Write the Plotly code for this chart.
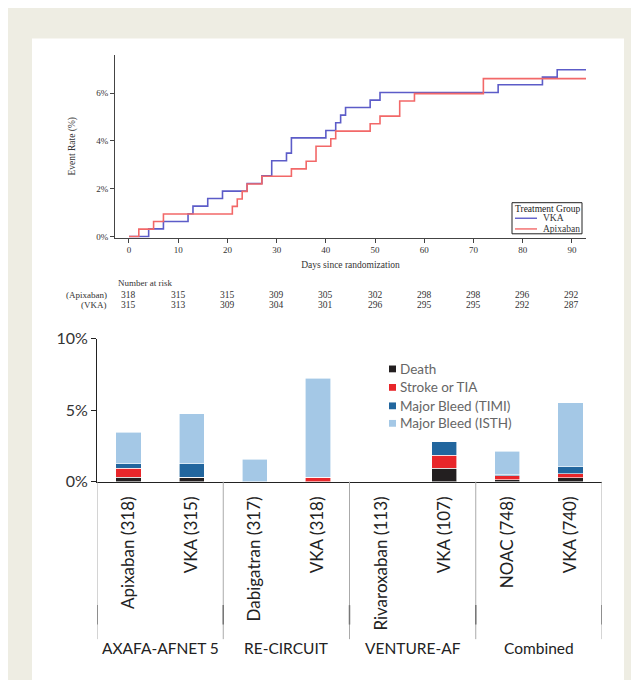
import plotly.graph_objects as go

W, H = 639, 680
OFF = 8  # page offset of the plot div (default body margin)


def px_x(x):
    return (x - OFF) / W


def px_y(y):
    return 1 - (y - OFF) / H


# ---------------- Kaplan-Meier data (event rate, %) ----------------
vka_days = [0, 4, 7, 12, 13, 16, 19, 24, 27, 29, 32, 33, 40, 42, 43, 44, 49, 51, 75, 84, 87, 93]
vka_rate = [0, 0.32, 0.63, 0.95, 1.27, 1.59, 1.90, 2.22, 2.54, 3.17, 3.49, 4.13, 4.44, 4.76,
            5.08, 5.40, 5.71, 6.03, 6.35, 6.67, 6.98, 6.98]
apix_days = [0, 2, 5, 7, 21, 22, 23, 24, 27, 33, 36, 38, 41, 42, 49, 51, 55, 58, 72, 93]
apix_rate = [0, 0.31, 0.63, 0.94, 1.26, 1.57, 1.89, 2.20, 2.52, 2.83, 3.15, 3.78, 4.09, 4.41,
             4.72, 5.04, 5.67, 5.98, 6.61, 6.61]

km_ticks = [0, 2, 4, 6]
km_ticktext = ["0%", "2%", "4%", "6%"]
risk_days = [0, 10, 20, 30, 40, 50, 60, 70, 80, 90]
risk_apix = [318, 315, 315, 309, 305, 302, 298, 298, 296, 292]
risk_vka = [315, 313, 309, 304, 301, 296, 295, 295, 292, 287]

# ---------------- Stacked bar data (%) ----------------
categories = ["Apixaban (318)", "VKA (315)", "Dabigatran (317)", "VKA (318)",
              "Rivaroxaban (113)", "VKA (107)", "NOAC (748)", "VKA (740)"]
groups = ["AXAFA-AFNET 5", "RE-CIRCUIT", "VENTURE-AF", "Combined"]
death = [0.31, 0.32, 0, 0, 0, 0.93, 0.13, 0.27]
stroke = [0.63, 0, 0, 0.31, 0, 0.93, 0.27, 0.27]
bleed_timi = [0.31, 0.95, 0, 0, 0, 0.93, 0.13, 0.50]
bleed_isth = [2.20, 3.49, 1.58, 6.92, 0, 0, 1.60, 4.50]
bar_ticks = [0, 5, 10]
bar_ticktext = ["0%", "5%", "10%"]

SERIF = "Liberation Serif"
SANS = "Lato"
VKA_COL = "#5c5cc8"
APIX_COL = "#f26868"

fig = go.Figure()

fig.add_trace(go.Scatter(x=vka_days, y=vka_rate, mode="lines", line_shape="hv",
                         name="VKA", line=dict(color=VKA_COL, width=1.6),
                         xaxis="x", yaxis="y", showlegend=False))
fig.add_trace(go.Scatter(x=apix_days, y=apix_rate, mode="lines", line_shape="hv",
                         name="Apixaban", line=dict(color=APIX_COL, width=1.6),
                         xaxis="x", yaxis="y", showlegend=False))

xcat = list(range(len(categories)))
bar_series = [("Death", death, "#231f20"),
              ("Stroke or TIA", stroke, "#e8262a"),
              ("Major Bleed (TIMI)", bleed_timi, "#22669e"),
              ("Major Bleed (ISTH)", bleed_isth, "#a4c8e6")]
for name, vals, col in bar_series:
    fig.add_trace(go.Bar(x=xcat, y=vals, name=name, width=0.4,
                         marker=dict(color=col, line=dict(color="white", width=0.6)),
                         xaxis="x2", yaxis="y2", showlegend=False))

shapes = [
    dict(type="rect", xref="paper", yref="paper", x0=px_x(32), x1=px_x(624),
         y0=-0.05, y1=px_y(29), fillcolor="white", line=dict(width=0), layer="below"),
]
# group separators
for xs in [-0.5, 1.5, 3.5, 5.5, 7.5]:
    shapes.append(dict(type="line", xref="x2", yref="paper", x0=xs, x1=xs,
                       y0=px_y(485), y1=px_y(647), line=dict(color="#aaaaaa", width=1)))
    shapes.append(dict(type="line", xref="x2", yref="paper", x0=xs, x1=xs,
                       y0=px_y(612), y1=px_y(632), line=dict(color="#777777", width=1.5)))

annotations = []

# KM legend box (Treatment Group)
shapes.append(dict(type="rect", xref="paper", yref="paper", x0=px_x(512), x1=px_x(582),
                   y0=px_y(230), y1=px_y(198), fillcolor="white",
                   line=dict(color="#222", width=1)))
annotations.append(dict(text="Treatment Group", xref="paper", yref="paper", x=px_x(512.5),
                        y=px_y(204), xanchor="left", yanchor="middle", showarrow=False,
                        font=dict(family=SERIF, size=9.5, color="#222")))
for label, col, ly in [("VKA", VKA_COL, 214), ("Apixaban", APIX_COL, 225)]:
    shapes.append(dict(type="line", xref="paper", yref="paper", x0=px_x(515), x1=px_x(537),
                       y0=px_y(ly), y1=px_y(ly), line=dict(color=col, width=1.4)))
    annotations.append(dict(text=label, xref="paper", yref="paper", x=px_x(541),
                            y=px_y(ly), xanchor="left", yanchor="middle", showarrow=False,
                            font=dict(family=SERIF, size=9.5, color="#333")))

# Bar legend
for (name, vals, col), ly in zip(bar_series, [369, 388, 407, 425]):
    shapes.append(dict(type="rect", xref="paper", yref="paper", x0=px_x(389), x1=px_x(396),
                       y0=px_y(ly + 3.5), y1=px_y(ly - 3.5), fillcolor=col,
                       line=dict(width=0)))
    annotations.append(dict(text=name, xref="paper", yref="paper", x=px_x(398),
                            y=px_y(ly), xanchor="left", yanchor="middle", showarrow=False,
                            font=dict(family=SANS, size=13.5, color="#666")))

# risk table
annotations.append(dict(text="Number at risk", xref="paper", yref="paper", x=px_x(116),
                        y=px_y(281), xanchor="left", yanchor="middle", showarrow=False,
                        font=dict(family=SERIF, size=9, color="#333")))
annotations.append(dict(text="(Apixaban)", xref="paper", yref="paper", x=px_x(109),
                        y=px_y(292.5), xanchor="right", yanchor="middle", showarrow=False,
                        font=dict(family=SERIF, size=9, color="#333")))
annotations.append(dict(text="(VKA)", xref="paper", yref="paper", x=px_x(109),
                        y=px_y(303.5), xanchor="right", yanchor="middle", showarrow=False,
                        font=dict(family=SERIF, size=9, color="#333")))
for d, a, v in zip(risk_days, risk_apix, risk_vka):
    annotations.append(dict(text=str(a), xref="x", yref="paper", x=d, y=px_y(292.5),
                            xanchor="center", yanchor="middle", showarrow=False,
                            font=dict(family=SERIF, size=9.5, color="#333")))
    annotations.append(dict(text=str(v), xref="x", yref="paper", x=d, y=px_y(303.5),
                            xanchor="center", yanchor="middle", showarrow=False,
                            font=dict(family=SERIF, size=9.5, color="#333")))
# group labels
for i, g in enumerate(groups):
    annotations.append(dict(text=g, xref="x2", yref="paper", x=2 * i + 0.5, y=px_y(656),
                            xanchor="center", yanchor="middle", showarrow=False,
                            font=dict(family=SANS, size=15.5, color="#222")))

fig.update_layout(
    width=W, height=H,
    margin=dict(l=0, r=0, t=0, b=0),
    paper_bgcolor="#eeede3",
    plot_bgcolor="rgba(0,0,0,0)",
    barmode="stack",
    showlegend=False,
    shapes=shapes,
    annotations=annotations,
    xaxis=dict(domain=[px_x(115), px_x(586)], range=[-2.84, 92.85], anchor="y",
               tickvals=risk_days, ticks="outside", ticklen=4, tickcolor="#444",
               showline=True, linecolor="#444", linewidth=1, showgrid=False, zeroline=False,
               tickfont=dict(family=SERIF, size=9, color="#333"),
               title=dict(text="Days since randomization", standoff=6,
                          font=dict(family=SERIF, size=9.5, color="#333")),
               layer="below traces"),
    yaxis=dict(domain=[px_y(234), px_y(46)], range=[-0.05, 7.6], anchor="x",
               tickvals=km_ticks, ticktext=km_ticktext, ticks="outside", ticklen=4,
               tickcolor="#444", showline=True, linecolor="#444", linewidth=1,
               showgrid=False, zeroline=False,
               tickfont=dict(family=SERIF, size=9, color="#333"),
               title=dict(text="Event Rate (%)", standoff=18,
                          font=dict(family=SERIF, size=9.5, color="#333")),
               layer="below traces"),
    xaxis2=dict(domain=[px_x(97), px_x(602)], range=[-0.5, 7.5], anchor="y2",
                tickvals=xcat, ticktext=categories, tickangle=-90,
                ticks="outside", ticklen=7, tickcolor="rgba(0,0,0,0)",
                showline=True, linecolor="#222", linewidth=1, showgrid=False, zeroline=False,
                tickfont=dict(family=SANS, size=17, color="#222")),
    yaxis2=dict(domain=[px_y(485), px_y(338)], range=[0, 10], anchor="x2",
                tickvals=bar_ticks, ticktext=bar_ticktext, ticks="outside", ticklen=5,
                tickcolor="#222", showline=True, linecolor="#222", linewidth=1,
                showgrid=False, zeroline=False,
                tickfont=dict(family=SANS, size=16, color="#333")),
)

fig.write_html("out.html")
